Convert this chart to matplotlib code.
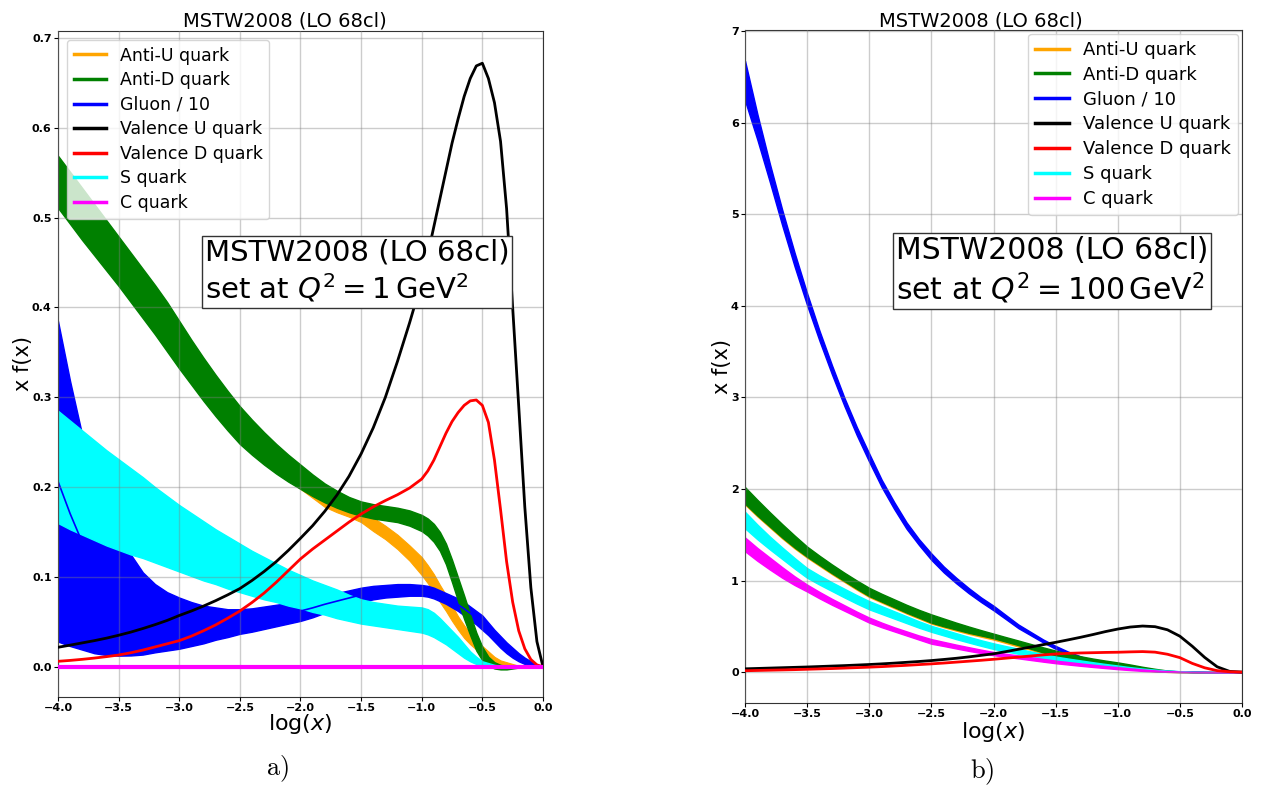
import numpy as np
import matplotlib.pyplot as plt
from matplotlib.lines import Line2D

# ---- panel a) : Q^2 = 1 GeV^2 ----
xa = [-4.0, -3.9, -3.8, -3.7, -3.6, -3.5, -3.4, -3.3, -3.2, -3.1,
      -3.0, -2.9, -2.8, -2.7, -2.6, -2.5, -2.4, -2.3, -2.2, -2.1,
      -2.0, -1.9, -1.8, -1.7, -1.6, -1.5, -1.4, -1.3, -1.2, -1.1,
      -1.0, -0.95, -0.9, -0.85, -0.8, -0.75, -0.7, -0.65, -0.6, -0.55,
      -0.5, -0.45, -0.4, -0.35, -0.3, -0.25, -0.2, -0.15, -0.1, -0.05, 0.0]

ubar_lo_a = [0.514, 0.496, 0.478, 0.461, 0.444, 0.427, 0.409, 0.391, 0.373, 0.354,
             0.335, 0.317, 0.299, 0.282, 0.266, 0.251, 0.239, 0.228, 0.218, 0.208,
             0.198, 0.188, 0.178, 0.172, 0.167, 0.161, 0.151, 0.142, 0.131, 0.118,
             0.102, 0.093, 0.083, 0.072, 0.062, 0.051, 0.041, 0.032, 0.025, 0.019,
             0.013, 0.008, 0.005, 0.002, 0.0, 0.0, 0.0, 0.0, 0.0, 0.0, 0.0]
ubar_hi_a = [0.556, 0.538, 0.520, 0.502, 0.485, 0.467, 0.449, 0.431, 0.412, 0.393,
             0.372, 0.352, 0.333, 0.315, 0.298, 0.282, 0.267, 0.254, 0.241, 0.229,
             0.218, 0.207, 0.197, 0.189, 0.181, 0.174, 0.166, 0.157, 0.147, 0.135,
             0.122, 0.113, 0.103, 0.091, 0.080, 0.068, 0.056, 0.046, 0.037, 0.030,
             0.023, 0.017, 0.011, 0.007, 0.005, 0.003, 0.001, 0.0, 0.0, 0.0, 0.0]
dbar_lo_a = [0.511, 0.493, 0.475, 0.458, 0.441, 0.424, 0.406, 0.388, 0.370, 0.351,
             0.332, 0.314, 0.296, 0.279, 0.263, 0.248, 0.236, 0.225, 0.215, 0.206,
             0.198, 0.190, 0.183, 0.177, 0.172, 0.168, 0.165, 0.163, 0.161, 0.157,
             0.151, 0.146, 0.139, 0.129, 0.114, 0.094, 0.073, 0.053, 0.035, 0.018,
             0.007, 0.001, -0.002, -0.003, -0.003, -0.002, -0.001, 0.0, 0.0, 0.0, 0.0]
dbar_hi_a = [0.569, 0.551, 0.533, 0.515, 0.497, 0.479, 0.461, 0.443, 0.425, 0.406,
             0.385, 0.364, 0.344, 0.325, 0.307, 0.290, 0.275, 0.261, 0.248, 0.236,
             0.225, 0.214, 0.204, 0.196, 0.189, 0.184, 0.181, 0.179, 0.177, 0.174,
             0.169, 0.165, 0.159, 0.150, 0.137, 0.119, 0.099, 0.079, 0.058, 0.038,
             0.022, 0.011, 0.005, 0.002, 0.001, 0.001, 0.0, 0.0, 0.0, 0.0, 0.0]
glu_lo_a = [0.028, 0.023, 0.019, 0.015, 0.013, 0.0123, 0.0125, 0.0135, 0.016, 0.018,
            0.020, 0.023, 0.026, 0.030, 0.033, 0.0366, 0.039, 0.042, 0.045, 0.048,
            0.051, 0.055, 0.060, 0.064, 0.068, 0.072, 0.075, 0.077, 0.078, 0.079,
            0.079, 0.078, 0.076, 0.073, 0.070, 0.066, 0.062, 0.057, 0.052, 0.047,
            0.041, 0.035, 0.028, 0.021, 0.015, 0.010, 0.006, 0.003, 0.001, 0.0, 0.0]
glu_hi_a = [0.385, 0.318, 0.258, 0.215, 0.180, 0.150, 0.125, 0.105, 0.092, 0.083,
            0.077, 0.072, 0.068, 0.066, 0.064, 0.064, 0.065, 0.067, 0.069, 0.071,
            0.073, 0.076, 0.079, 0.082, 0.085, 0.088, 0.090, 0.091, 0.092, 0.092,
            0.091, 0.090, 0.088, 0.085, 0.082, 0.079, 0.076, 0.072, 0.067, 0.062,
            0.057, 0.049, 0.041, 0.034, 0.027, 0.021, 0.015, 0.010, 0.006, 0.002, 0.0]
uv_a = [0.0216, 0.0240, 0.0265, 0.0290, 0.0318, 0.0350, 0.0385, 0.0425, 0.0468, 0.0515,
        0.0570, 0.0620, 0.0675, 0.0735, 0.0800, 0.0870, 0.0960, 0.1060, 0.1170, 0.1295,
        0.1430, 0.1570, 0.1730, 0.1910, 0.2120, 0.2370, 0.2660, 0.3000, 0.3400, 0.3830,
        0.4290, 0.4590, 0.4900, 0.5210, 0.5520, 0.5830, 0.6100, 0.6350, 0.6550, 0.6690,
        0.6720, 0.6550, 0.6280, 0.5850, 0.5100, 0.4000, 0.2900, 0.1780, 0.0880, 0.0280, 0.0]
dv_a = [0.0060, 0.0070, 0.0082, 0.0096, 0.0112, 0.0130, 0.0155, 0.0185, 0.0220, 0.0255,
        0.0290, 0.0340, 0.0400, 0.0465, 0.0540, 0.0620, 0.0715, 0.0820, 0.0940, 0.1070,
        0.1200, 0.1310, 0.1410, 0.1510, 0.1610, 0.1700, 0.1780, 0.1850, 0.1915, 0.1990,
        0.2090, 0.2180, 0.2300, 0.2450, 0.2600, 0.2730, 0.2830, 0.2910, 0.2960, 0.2970,
        0.2910, 0.2720, 0.2300, 0.1750, 0.1170, 0.0720, 0.0400, 0.0200, 0.0080, 0.0020, 0.0]
s_lo_a = [0.160, 0.153, 0.147, 0.141, 0.135, 0.130, 0.125, 0.121, 0.116, 0.111,
          0.106, 0.101, 0.096, 0.092, 0.087, 0.083, 0.079, 0.075, 0.072, 0.068,
          0.065, 0.061, 0.058, 0.054, 0.051, 0.048, 0.046, 0.044, 0.042, 0.040,
          0.038, 0.036, 0.033, 0.029, 0.025, 0.020, 0.015, 0.010, 0.006, 0.003,
          0.001, 0.0, 0.0, 0.0, 0.0, 0.0, 0.0, 0.0, 0.0, 0.0, 0.0]
s_hi_a = [0.285, 0.274, 0.263, 0.252, 0.241, 0.231, 0.221, 0.211, 0.200, 0.190,
          0.180, 0.171, 0.162, 0.153, 0.145, 0.137, 0.129, 0.122, 0.115, 0.108,
          0.102, 0.096, 0.091, 0.086, 0.080, 0.075, 0.072, 0.070, 0.068, 0.067,
          0.066, 0.064, 0.060, 0.054, 0.047, 0.040, 0.033, 0.025, 0.017, 0.011,
          0.006, 0.004, 0.002, 0.001, 0.0, 0.0, 0.0, 0.0, 0.0, 0.0, 0.0]
c_x_a = [-4.0, 0.0]
c_a = [0.0, 0.0]

# ---- panel b) : Q^2 = 100 GeV^2 ----
xb = [-4.0, -3.9, -3.8, -3.7, -3.6, -3.5, -3.4, -3.3, -3.2, -3.1,
      -3.0, -2.9, -2.8, -2.7, -2.6, -2.5, -2.4, -2.3, -2.2, -2.1,
      -2.0, -1.9, -1.8, -1.7, -1.6, -1.5, -1.4, -1.3, -1.2, -1.1,
      -1.0, -0.9, -0.8, -0.7, -0.6, -0.5, -0.4, -0.3, -0.2, -0.1, 0.0]

ubar_lo_b = [1.83, 1.70, 1.58, 1.46, 1.35, 1.25, 1.16, 1.07, 0.985, 0.90,
             0.82, 0.76, 0.70, 0.64, 0.585, 0.53, 0.49, 0.453, 0.418, 0.387,
             0.356, 0.318, 0.280, 0.244, 0.200, 0.165, 0.137, 0.113, 0.091, 0.072,
             0.057, 0.038, 0.021, 0.009, 0.002, 0.0, 0.0, 0.0, 0.0, 0.0, 0.0]
ubar_hi_b = [2.00, 1.86, 1.725, 1.595, 1.47, 1.35, 1.25, 1.155, 1.065, 0.98,
             0.90, 0.835, 0.775, 0.715, 0.66, 0.61, 0.565, 0.52, 0.478, 0.438,
             0.40, 0.362, 0.325, 0.287, 0.25, 0.215, 0.183, 0.155, 0.131, 0.110,
             0.090, 0.068, 0.045, 0.026, 0.011, 0.003, 0.0, 0.0, 0.0, 0.0, 0.0]
dbar_lo_b = [1.84, 1.71, 1.59, 1.47, 1.36, 1.26, 1.17, 1.08, 0.995, 0.91,
             0.83, 0.77, 0.71, 0.65, 0.595, 0.54, 0.50, 0.465, 0.43, 0.40,
             0.37, 0.333, 0.295, 0.255, 0.215, 0.18, 0.152, 0.128, 0.105, 0.085,
             0.069, 0.048, 0.028, 0.013, 0.004, 0.001, 0.0, 0.0, 0.0, 0.0, 0.0]
dbar_hi_b = [2.02, 1.88, 1.745, 1.615, 1.49, 1.37, 1.27, 1.175, 1.085, 1.0,
             0.92, 0.855, 0.795, 0.735, 0.68, 0.63, 0.585, 0.54, 0.498, 0.458,
             0.42, 0.382, 0.345, 0.307, 0.27, 0.235, 0.202, 0.173, 0.148, 0.126,
             0.106, 0.083, 0.058, 0.036, 0.017, 0.006, 0.001, 0.0, 0.0, 0.0, 0.0]
glu_lo_b = [6.24, 5.81, 5.35, 4.875, 4.425, 4.005, 3.615, 3.25, 2.905, 2.585,
            2.295, 2.02, 1.782, 1.565, 1.388, 1.225, 1.088, 0.970, 0.862, 0.765,
            0.675, 0.578, 0.480, 0.402, 0.324, 0.254, 0.196, 0.148, 0.105, 0.077,
            0.054, 0.039, 0.023, 0.015, 0.009, 0.005, 0.002, 0.001, 0.0, 0.0, 0.0]
glu_hi_b = [6.675, 6.09, 5.55, 5.045, 4.575, 4.135, 3.725, 3.35, 2.995, 2.675,
            2.385, 2.10, 1.858, 1.635, 1.452, 1.295, 1.152, 1.030, 0.918, 0.815,
            0.725, 0.622, 0.520, 0.438, 0.356, 0.286, 0.224, 0.172, 0.125, 0.093,
            0.068, 0.051, 0.033, 0.023, 0.015, 0.009, 0.006, 0.003, 0.001, 0.0, 0.0]
uv_b = [0.036, 0.040, 0.044, 0.048, 0.052, 0.056, 0.061, 0.066, 0.071, 0.077,
        0.083, 0.090, 0.098, 0.107, 0.116, 0.126, 0.138, 0.151, 0.166, 0.183,
        0.200, 0.224, 0.249, 0.274, 0.300, 0.325, 0.352, 0.380, 0.410, 0.442,
        0.470, 0.492, 0.503, 0.496, 0.462, 0.392, 0.282, 0.160, 0.058, 0.008, 0.0]
dv_b = [0.015, 0.018, 0.021, 0.024, 0.027, 0.031, 0.035, 0.039, 0.044, 0.049,
        0.054, 0.060, 0.067, 0.074, 0.082, 0.090, 0.099, 0.109, 0.119, 0.129,
        0.140, 0.152, 0.164, 0.176, 0.188, 0.198, 0.205, 0.209, 0.212, 0.215,
        0.217, 0.221, 0.224, 0.218, 0.195, 0.158, 0.095, 0.047, 0.016, 0.004, 0.0]
s_lo_b = [1.57, 1.45, 1.34, 1.235, 1.13, 1.03, 0.955, 0.885, 0.815, 0.748,
          0.685, 0.635, 0.585, 0.535, 0.485, 0.44, 0.40, 0.36, 0.323, 0.287,
          0.253, 0.226, 0.200, 0.175, 0.150, 0.126, 0.108, 0.092, 0.077, 0.061,
          0.047, 0.033, 0.021, 0.012, 0.006, 0.002, 0.0, 0.0, 0.0, 0.0, 0.0]
s_hi_b = [1.75, 1.61, 1.48, 1.36, 1.245, 1.135, 1.055, 0.98, 0.91, 0.84,
          0.775, 0.72, 0.665, 0.61, 0.555, 0.505, 0.465, 0.425, 0.385, 0.348,
          0.314, 0.284, 0.255, 0.226, 0.197, 0.170, 0.148, 0.128, 0.108, 0.089,
          0.072, 0.054, 0.039, 0.027, 0.017, 0.010, 0.005, 0.002, 0.001, 0.0, 0.0]
c_lo_b = [1.32, 1.215, 1.12, 1.03, 0.95, 0.88, 0.805, 0.735, 0.67, 0.605,
          0.54, 0.49, 0.445, 0.40, 0.355, 0.31, 0.285, 0.258, 0.232, 0.208,
          0.185, 0.167, 0.150, 0.132, 0.114, 0.097, 0.083, 0.069, 0.056, 0.044,
          0.032, 0.022, 0.013, 0.007, 0.003, 0.0, 0.0, 0.0, 0.0, 0.0, 0.0]
c_hi_b = [1.47, 1.355, 1.25, 1.145, 1.045, 0.955, 0.875, 0.80, 0.73, 0.66,
          0.595, 0.54, 0.49, 0.445, 0.40, 0.36, 0.33, 0.30, 0.272, 0.245,
          0.22, 0.2, 0.182, 0.163, 0.144, 0.126, 0.110, 0.095, 0.081, 0.067,
          0.054, 0.041, 0.029, 0.019, 0.011, 0.005, 0.002, 0.001, 0.0, 0.0, 0.0]

labels = ['Anti-U quark', 'Anti-D quark', 'Gluon / 10', 'Valence U quark',
          'Valence D quark', 'S quark', 'C quark']
colors = ['orange', 'green', 'blue', 'black', 'red', 'cyan', 'magenta']
title = 'MSTW2008 (LO 68cl)'


def style_axes(ax):
    ax.set_xlim(-4.0, 0.0)
    ax.set_xticks(np.arange(-4.0, 0.01, 0.5))
    ax.grid(True, color='grey', alpha=0.4, lw=1)
    ax.set_axisbelow(False)
    ax.tick_params(length=3, pad=1.5)
    for sp in ax.spines.values():
        sp.set_color('#333333')
    for lab in ax.get_xticklabels() + ax.get_yticklabels():
        lab.set_fontweight('bold')
        lab.set_fontsize(8)
    return [Line2D([], [], color=c, lw=2.5, label=l) for c, l in zip(colors, labels)]


fig = plt.figure(figsize=(12.77, 7.92), dpi=100)

# panel a
ax1 = fig.add_axes([0.0454, 0.12, 0.3798, 0.841])
ax1.fill_between(xa, ubar_lo_a, ubar_hi_a, color='orange', lw=0.8, zorder=1.0)
ax1.fill_between(xa, glu_lo_a, glu_hi_a, color='blue', lw=1, zorder=1.1)
ax1.fill_between(xa, dbar_lo_a, dbar_hi_a, color='green', lw=1, zorder=1.2)
ax1.fill_between(xa, s_lo_a, s_hi_a, color='cyan', lw=1, zorder=1.3)
# gluon central value, shows through the S-quark band
ax1.plot(xa, (np.array(glu_lo_a) + np.array(glu_hi_a)) / 2, color='blue', lw=1.2, zorder=1.45)
ax1.plot(xa, uv_a, color='black', lw=2, zorder=3)
ax1.plot(xa, dv_a, color='red', lw=2, zorder=3)
ax1.plot(c_x_a, c_a, color='magenta', lw=3, zorder=3.1)
ax1.set_ylim(-0.0337, 0.708)
h = style_axes(ax1)
ax1.legend(handles=h, loc='upper left', fontsize=12.5, labelspacing=0.38,
           handlelength=1.85).set_zorder(10)
ax1.set_title(title, fontsize=14, x=0.467, pad=1)
ax1.set_xlabel('log($x$)', fontsize=16)
ax1.set_ylabel('x f(x)', fontsize=15)
ax1.xaxis.set_label_coords(0.5, -0.0225)
ax1.yaxis.set_label_coords(-0.052, 0.5)
ax1.text(0.303, 0.688, 'MSTW2008 (LO 68cl)\nset at $Q^2 = 1\\,\\mathrm{GeV}^2$',
         transform=ax1.transAxes, fontsize=21, ha='left', va='top', zorder=6,
         bbox=dict(boxstyle='square,pad=0.1', fc='white', ec='#333333', lw=1))

# panel b
ax2 = fig.add_axes([0.5834, 0.1124, 0.3892, 0.8497])
ax2.fill_between(xb, ubar_lo_b, ubar_hi_b, color='orange', lw=1, zorder=1.0)
ax2.fill_between(xb, glu_lo_b, glu_hi_b, color='blue', lw=1, zorder=1.1)
ax2.fill_between(xb, dbar_lo_b, dbar_hi_b, color='green', lw=1, zorder=1.2)
ax2.fill_between(xb, s_lo_b, s_hi_b, color='cyan', lw=1, zorder=1.3)
ax2.fill_between(xb, c_lo_b, c_hi_b, color='magenta', lw=1, zorder=1.35)
ax2.plot(xb, uv_b, color='black', lw=2, zorder=3)
ax2.plot(xb, dv_b, color='red', lw=2, zorder=3)
ax2.set_ylim(-0.337, 7.01)
h = style_axes(ax2)
ax2.legend(handles=h, loc='upper right', fontsize=13, labelspacing=0.38,
           handlelength=1.85, borderaxespad=0.2).set_zorder(10)
ax2.set_title(title, fontsize=14, x=0.475, pad=0)
ax2.set_xlabel('log($x$)', fontsize=16)
ax2.set_ylabel('x f(x)', fontsize=15)
ax2.xaxis.set_label_coords(0.5, -0.025)
ax2.yaxis.set_label_coords(-0.026, 0.5)
ax2.text(0.304, 0.694, 'MSTW2008 (LO 68cl)\nset at $Q^2 = 100\\,\\mathrm{GeV}^2$',
         transform=ax2.transAxes, fontsize=21.5, ha='left', va='top', zorder=6,
         bbox=dict(boxstyle='square,pad=0.1', fc='white', ec='#333333', lw=1))

fig.text(0.217, 0.030, r'$\mathrm{a)}$', math_fontfamily='cm', fontsize=19, ha='center', va='center')
fig.text(0.769, 0.025, r'$\mathrm{b)}$', math_fontfamily='cm', fontsize=19, ha='center', va='center')

fig.savefig('out.png', dpi=100)
plt.close(fig)
